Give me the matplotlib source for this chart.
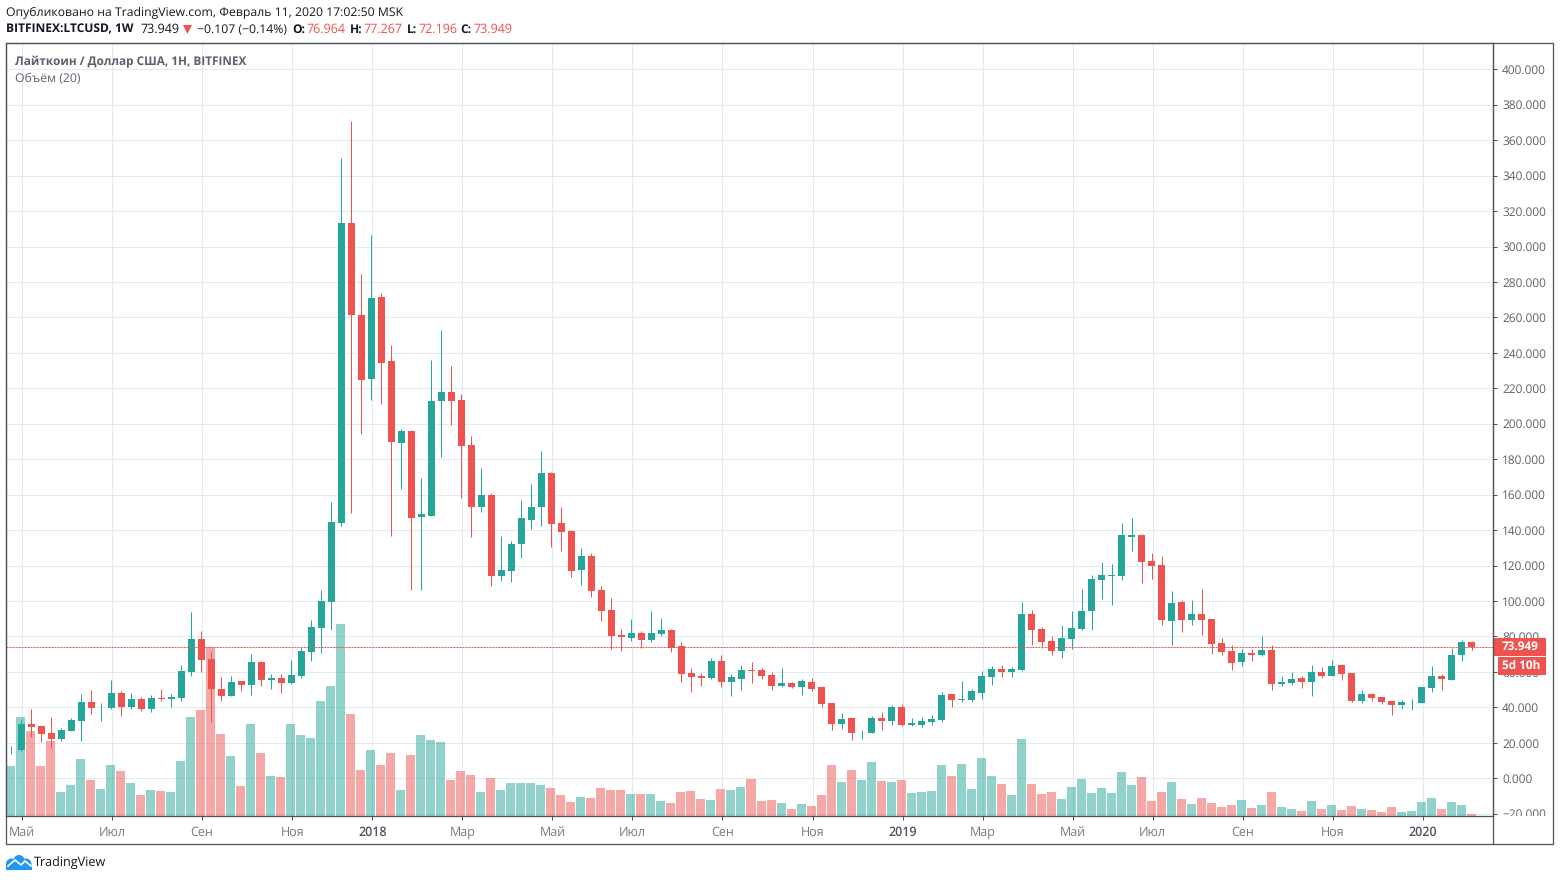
import matplotlib
matplotlib.use("Agg")
import matplotlib.pyplot as plt
import matplotlib.patches as mpatches
from matplotlib.transforms import Bbox
import numpy as np

plt.rcParams['font.family'] = ['Open Sans', 'DejaVu Sans']
plt.rcParams['text.hinting'] = 'no_hinting'

WIDTH, HEIGHT = 1560, 881
GREEN = '#26a69a'
RED = '#ef5350'
GRID = '#e1ecf2'
BORDER = '#50535e'
TEXT = '#131722'
LABEL = '#5d606b'

opens = [16.0, 16.1, 30.8, 29.6, 25.7, 22.3, 26.8, 32.4, 43.2, 40.0,
         39.8, 48.2, 40.4, 44.9, 39.2, 45.4, 44.9, 45.4, 60.1, 78.7,
         67.4, 50.5, 46.6, 55.0, 52.8, 65.7, 55.6, 56.7, 53.9, 57.8,
         71.4, 84.9, 99.6, 144.2, 313.4, 261.5, 225.4, 271.6, 235.5, 189.3,
         196.1, 147.5, 148.1, 212.9, 218.0, 213.5, 188.2, 153.2, 160.0, 114.3,
         117.1, 132.3, 145.9, 153.2, 172.4, 144.2, 139.7, 117.7, 125.6, 106.4,
         95.1, 81.0, 79.3, 82.1, 78.2, 81.6, 83.8, 74.8, 59.6, 57.9,
         56.8, 66.4, 54.5, 56.2, 61.3, 61.3, 58.5, 52.3, 54.0, 51.7,
         54.5, 51.7, 42.7, 30.8, 34.2, 25.9, 25.7, 34.2, 32.5, 40.4,
         30.3, 30.3, 32.0, 33.1, 47.7, 44.3, 44.3, 48.2, 57.3, 61.8,
         60.1, 61.2, 92.8, 84.3, 77.6, 71.9, 78.7, 84.3, 94.5, 112.0,
         114.2, 114.2, 136.2, 137.4, 122.7, 120.4, 88.9, 99.6, 89.4, 92.8,
         90.0, 76.4, 71.9, 65.7, 70.8, 69.7, 72.5, 53.3, 53.9, 56.7,
         54.5, 60.1, 57.9, 64.1, 59.5, 43.7, 47.7, 46.0, 43.7, 41.5,
         42.8, 42.6, 51.0, 57.8, 55.6, 69.7, 76.964]
highs = [18.0, 33.0, 39.2, 30.2, 34.7, 28.5, 34.1, 47.7, 49.9, 42.6,
         55.6, 49.4, 48.2, 46.0, 47.1, 50.5, 47.7, 64.0, 93.9, 83.2,
         71.9, 57.3, 57.8, 55.0, 70.2, 66.3, 59.0, 59.0, 66.9, 74.2,
         89.4, 106.4, 156.0, 350.0, 370.9, 284.6, 306.6, 273.9, 244.6, 197.2,
         196.6, 169.5, 236.1, 253.0, 232.7, 216.9, 193.2, 175.2, 161.0, 136.8,
         134.0, 157.1, 166.2, 184.8, 172.9, 153.2, 140.2, 130.0, 127.3, 108.6,
         101.9, 84.4, 90.0, 83.3, 94.5, 90.6, 84.4, 77.1, 62.4, 59.6,
         68.0, 69.7, 59.0, 64.1, 65.8, 62.4, 60.2, 62.4, 54.5, 56.2,
         56.8, 52.3, 42.7, 37.0, 34.2, 27.4, 35.3, 37.6, 41.5, 42.1,
         34.2, 34.8, 35.9, 48.9, 47.7, 55.0, 50.5, 60.7, 63.5, 64.0,
         62.9, 99.6, 95.1, 85.5, 80.4, 86.6, 94.5, 106.9, 114.8, 122.1,
         121.0, 144.1, 147.0, 137.9, 127.2, 125.5, 105.8, 100.7, 100.7, 106.9,
         90.0, 79.3, 75.3, 73.1, 73.1, 80.4, 75.3, 57.8, 60.1, 57.8,
         64.1, 62.9, 66.9, 64.6, 59.5, 49.9, 48.2, 46.0, 43.7, 44.3,
         44.9, 51.6, 63.5, 59.0, 73.6, 78.1, 77.267]
lows = [13.8, 15.5, 23.4, 20.6, 17.2, 21.2, 26.8, 21.2, 36.4, 32.4,
        39.2, 35.3, 39.2, 38.1, 37.5, 43.7, 40.4, 43.7, 57.8, 60.1,
        31.9, 43.7, 46.6, 49.4, 47.1, 52.2, 50.5, 48.2, 53.2, 56.7,
        66.3, 70.8, 83.8, 142.5, 149.8, 194.4, 213.5, 211.3, 136.8, 163.3,
        106.4, 106.4, 148.1, 181.4, 199.4, 158.3, 136.3, 150.4, 108.6, 111.5,
        110.9, 124.4, 140.8, 142.5, 130.6, 128.4, 113.7, 109.2, 102.4, 88.9,
        73.1, 72.0, 77.6, 73.7, 77.0, 80.4, 71.4, 54.5, 48.9, 52.3,
        56.2, 51.7, 46.6, 50.0, 53.9, 56.2, 50.0, 51.7, 51.1, 47.2,
        49.4, 40.4, 27.4, 28.0, 21.8, 22.4, 25.7, 27.4, 30.3, 29.7,
        29.7, 29.1, 30.3, 32.0, 40.4, 43.2, 43.2, 44.9, 52.8, 57.3,
        57.3, 60.7, 75.3, 73.6, 69.7, 68.0, 73.1, 83.8, 83.8, 101.3,
        97.9, 112.0, 128.3, 110.3, 112.5, 86.6, 75.3, 82.7, 86.6, 81.0,
        70.2, 69.7, 61.2, 63.5, 66.3, 69.1, 50.0, 52.2, 52.8, 51.1,
        46.6, 56.7, 57.9, 55.6, 43.2, 42.6, 43.7, 42.0, 35.8, 39.2,
        38.7, 42.6, 48.8, 49.9, 55.6, 66.3, 72.196]
closes = [16.2, 30.8, 29.1, 25.1, 22.3, 27.4, 33.0, 43.2, 39.8, 40.3,
          48.2, 40.4, 44.9, 39.2, 45.4, 44.8, 46.0, 60.7, 78.7, 66.9,
          50.5, 46.6, 54.4, 52.8, 65.7, 55.6, 56.7, 53.9, 58.4, 71.9,
          85.5, 100.1, 144.7, 313.4, 261.5, 224.8, 271.1, 234.4, 189.8, 196.1,
          147.0, 149.2, 212.9, 218.0, 212.9, 187.6, 153.2, 160.0, 114.3, 117.7,
          132.3, 147.0, 153.2, 172.4, 143.6, 139.1, 117.1, 125.6, 105.8, 94.5,
          80.4, 79.9, 82.1, 78.2, 82.1, 83.8, 73.7, 59.0, 57.3, 56.8,
          66.4, 54.5, 57.3, 61.3, 60.7, 57.9, 52.3, 54.0, 51.7, 55.1,
          50.6, 42.1, 30.8, 33.6, 25.7, 26.3, 34.2, 32.5, 40.4, 30.3,
          31.4, 32.5, 33.6, 47.2, 44.4, 44.9, 49.4, 57.8, 61.8, 60.1,
          61.8, 92.8, 83.8, 77.0, 71.9, 79.3, 84.9, 94.5, 112.5, 114.8,
          114.8, 137.4, 137.4, 122.1, 119.9, 89.4, 99.0, 89.4, 92.8, 89.4,
          75.9, 71.4, 65.2, 70.8, 69.7, 72.5, 53.3, 54.4, 56.1, 54.5,
          60.1, 57.9, 63.5, 59.0, 43.7, 47.7, 45.4, 43.2, 41.5, 43.2,
          43.2, 51.6, 57.8, 56.1, 69.7, 77.0, 73.949]
# no volume scale on the chart, so these are bar heights as read off it
volumes = [50, 99, 85, 50, 75, 24, 31, 57, 36, 27,
           51, 45, 33, 21, 26, 25, 24, 55, 99, 106,
           169, 82, 60, 30, 92, 63, 40, 39, 92, 81,
           78, 115, 130, 192, 102, 46, 66, 51, 63, 26,
           61, 81, 76, 74, 36, 45, 41, 24, 38, 26,
           33, 33, 33, 31, 28, 21, 14, 19, 18, 28,
           26, 26, 22, 22, 22, 15, 13, 24, 25, 17,
           16, 27, 26, 29, 37, 15, 16, 13, 7, 12,
           10, 21, 51, 34, 46, 36, 54, 35, 34, 36,
           23, 24, 25, 51, 40, 52, 27, 58, 40, 32,
           21, 77, 32, 22, 24, 17, 29, 37, 23, 28,
           23, 44, 31, 39, 15, 24, 34, 17, 12, 18,
           13, 9, 11, 16, 8, 11, 24, 9, 7, 5,
           15, 7, 11, 6, 10, 7, 6, 4, 9, 4,
           5, 14, 18, 7, 14, 11, 2]

month_ticks = [1, 10, 19, 28, 36, 45, 54, 62, 71, 80, 89, 97, 106, 114, 123, 132, 141]
month_labels = ["Май", "Июл", "Сен", "Ноя", "2018", "Мар", "Май", "Июл", "Сен",
                "Ноя", "2019", "Мар", "Май", "Июл", "Сен", "Ноя", "2020"]
price_ticks = list(range(-20, 401, 20))
last_price = 73.949

VOL_SCALE = 1 / 1.773
Y_MIN, Y_MAX = -21.27, 414.8


def px_rect(left, top, right, bottom):
    return [left / WIDTH, 1 - bottom / HEIGHT, (right - left) / WIDTH, (bottom - top) / HEIGHT]


fig = plt.figure(figsize=(WIDTH / 100, HEIGHT / 100), dpi=100, facecolor='white')
ax = fig.add_axes(px_rect(6, 43, 1493, 816))
ax.set_xlim(-0.5, 148.1)
ax.set_ylim(Y_MIN, Y_MAX)

idx = np.arange(len(closes))
o, h, l, c = map(np.array, (opens, highs, lows, closes))
up = c >= o
colors = np.where(up, GREEN, RED)

ax.bar(idx - 0.05, np.array(volumes) * VOL_SCALE, bottom=Y_MIN, width=0.9, color=colors,
       alpha=0.5, linewidth=0, zorder=1)
ax.vlines(idx, l, h, colors=colors, linewidth=0.72, zorder=2)
ax.bar(idx, np.abs(c - o), bottom=np.minimum(o, c), width=0.7, color=colors,
       linewidth=0, zorder=3)
ax.axhline(last_price, color=RED, linewidth=0.72, linestyle=(0, (2, 1)), zorder=4)

ax.set_xticks(np.array(month_ticks) + 0.1)
ax.set_xticklabels(month_labels)
ax.set_yticks(price_ticks)
ax.set_yticklabels([f"{v:.3f}".replace('-', '\u2212') for v in price_ticks])
ax.yaxis.tick_right()
ax.grid(True, color=GRID, linewidth=0.72, zorder=0)
ax.set_axisbelow(True)
ax.tick_params(axis='x', length=3, width=0.72, color=BORDER, labelsize=9, pad=4.2)
ax.tick_params(axis='y', length=3, width=0.72, color=BORDER, labelsize=8.6, labelcolor=LABEL, pad=3.5)
for sp in ax.spines.values():
    sp.set_edgecolor(BORDER)
    sp.set_linewidth(0.9)

for lab in ax.get_xticklabels():
    is_year = lab.get_text().isdigit()
    lab.set_color(BORDER if is_year else '#787b86')
    if is_year:
        lab.set_fontweight('semibold')

# the lowest price label runs under the time axis
clip = Bbox([[1494, HEIGHT - 816], [WIDTH, HEIGHT]])
for lab in ax.get_yticklabels():
    lab.set_clip_box(clip)
    lab.set_clip_on(True)

# everything around the chart goes on a full size layer in pixel coordinates
top = fig.add_axes([0, 0, 1, 1], facecolor='none')
top.set_xlim(0, WIDTH)
top.set_ylim(HEIGHT, 0)
top.axis('off')

top.add_patch(mpatches.Rectangle((6, 43), 1547, 801, fill=False, edgecolor=BORDER, linewidth=0.9))
top.plot([1493, 1493], [43, 844], color=BORDER, linewidth=0.9)


def label(x, y, s, **kw):
    kw.setdefault('color', TEXT)
    kw.setdefault('fontsize', 8.85)
    top.text(x, y, s, va='center', ha=kw.pop('ha', 'left'), **kw)


label(6, 12.5, "Опубликовано на TradingView.com, Февраль 11, 2020 17:02:50 MSK")
label(6, 29.5, "BITFINEX:LTCUSD, 1W", fontweight='bold', fontsize=8.65)
label(140.5, 29.5, "73.949", fontsize=9)
top.add_patch(mpatches.Polygon([(183, 25), (192, 25), (187.5, 34)], color=RED, linewidth=0))
label(197, 29.5, "\u22120.107 (\u22120.14%)")
label(292, 29.5, "O:", fontweight='bold', fontsize=8.65)
label(306.5, 29.5, "76.964", color=RED, fontsize=9)
label(349.5, 29.5, "H:", fontweight='bold', fontsize=8.65)
label(363.5, 29.5, "77.267", color=RED, fontsize=9)
label(407, 29.5, "L:", fontweight='bold', fontsize=8.65)
label(418, 29.5, "72.196", color=RED, fontsize=9)
label(460, 29.5, "C:", fontweight='bold', fontsize=8.65)
label(473.5, 29.5, "73.949", color=RED, fontsize=9)

label(15, 61.5, "Лайткоин / Доллар США, 1Н, BITFINEX", color=LABEL, fontweight='bold', fontsize=8.45)
label(15, 78.5, "Объём (20)", color=LABEL, fontsize=8.8)

top.add_patch(mpatches.Rectangle((1493, 638), 53, 18, color=RED, linewidth=0))
top.add_patch(mpatches.Rectangle((1498, 657), 48, 18, color=RED, linewidth=0))
label(1502, 647, "73.949", color='white', fontweight='bold', fontsize=8.5)
label(1502, 666, "5d 10h", color='white', fontweight='bold', fontsize=8.5)

# logo
for cx, cy, r in [(11.5, 864, 5.5), (19, 860.5, 5.5), (26, 864, 5.5)]:
    top.add_patch(mpatches.Circle((cx, cy), r, color='#2196f3', linewidth=0))
top.add_patch(mpatches.Rectangle((6, 865), 26, 5, color='#2196f3', linewidth=0))
top.plot([8, 15, 21, 25, 31], [866, 860, 865, 861, 866], color='white', linewidth=1.2)
label(34, 863, "TradingView", color=TEXT, fontsize=9.1)

fig.savefig("out.png", dpi=100)
